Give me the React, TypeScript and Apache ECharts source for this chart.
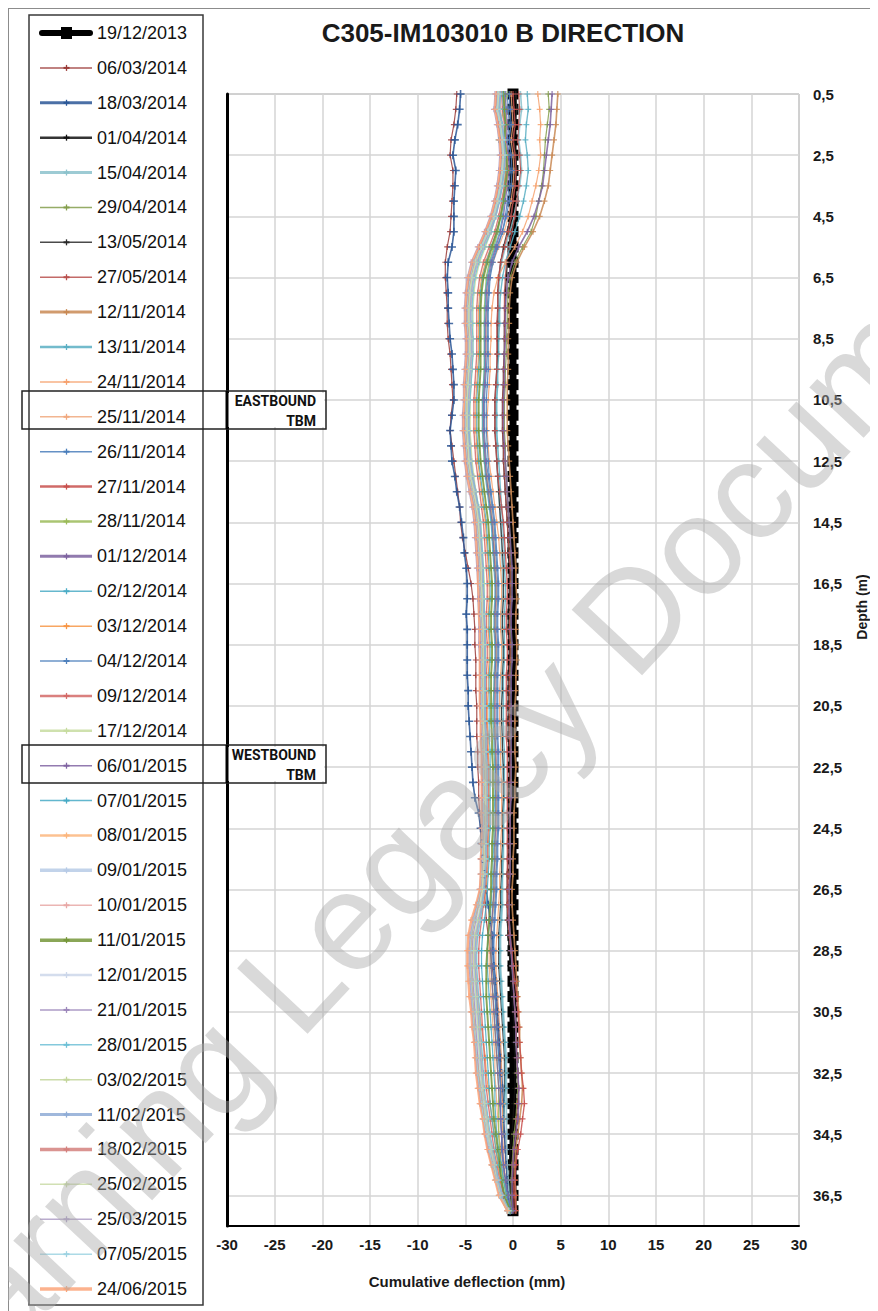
import React, { useEffect, useRef } from 'react';
import * as echarts from 'echarts';

// Depth of each reading (m)
const depths = [0.5,1,1.5,2,2.5,3,3.5,4,4.5,5,5.5,6,6.5,7,7.5,8,8.5,9,9.5,10,10.5,11,11.5,12,12.5,13,13.5,14,14.5,15,15.5,16,16.5,17,17.5,18,18.5,19,19.5,20,20.5,21,21.5,22,22.5,23,23.5,24,24.5,25,25.5,26,26.5,27,27.5,28,28.5,29,29.5,30,30.5,31,31.5,32,32.5,33,33.5,34,34.5,35,35.5,36,36.5,37];

// Cumulative deflection (mm) per survey date, one value per depth
const d20131219 = [0,0,0,0,0,0,0,0,0,0, 0,0,0,0,0,0,0,0,0,0, 0,0,0,0,0,0,0,0,0,0, 0,0,0,0,0,0,0,0,0,0, 0,0,0,0,0,0,0,0,0,0, 0,0,0,0,0,0,0,0,0,0, 0,0,0,0,0,0,0,0,0,0, 0,0,0,0];
const d20140306 = [-5.9,-6.0,-6.2,-6.5,-6.6,-6.3,-6.3,-6.4,-6.5,-6.6, -6.9,-7.1,-7.1,-7.0,-6.9,-6.9,-6.8,-6.6,-6.5,-6.4, -6.3,-6.5,-6.6,-6.4,-6.2,-6.0,-5.8,-5.6,-5.5,-5.3, -5.0,-4.7,-4.4,-4.2,-4.1,-4.0,-4.0,-3.9,-3.9,-3.9, -3.8,-3.8,-3.8,-3.7,-3.7,-3.6,-3.6,-3.5,-3.4,-3.3, -3.2,-3.1,-3.0,-2.9,-2.8,-2.6,-2.4,-2.2,-2.0,-1.8, -1.7,-1.6,-1.5,-1.4,-1.3,-1.2,-1.1,-1.0,-0.9,-0.8, -0.7,-0.6,-0.5,-0.3];
const d20140318 = [-5.5,-5.6,-5.8,-6.1,-6.3,-6.0,-6.1,-6.2,-6.2,-6.2, -6.4,-6.8,-6.9,-6.8,-6.8,-6.7,-6.6,-6.4,-6.3,-6.2, -6.2,-6.4,-6.6,-6.5,-6.4,-6.1,-5.9,-5.6,-5.4,-5.2, -5.1,-4.9,-4.8,-4.8,-4.9,-4.8,-4.8,-4.8,-4.8,-4.7, -4.7,-4.6,-4.5,-4.4,-4.3,-4.2,-4.0,-3.6,-3.4,-3.3, -3.2,-3.0,-2.8,-2.6,-2.4,-2.2,-2.1,-2.0,-1.8,-1.7, -1.6,-1.5,-1.4,-1.3,-1.2,-1.1,-1.0,-1.0,-0.9,-0.8, -0.7,-0.6,-0.5,-0.3];
const d20140401 = [0.2,0.1,0.2,0.0,0.1,0.2,0.1,0.0,-0.1,-0.2, -0.4,-0.6,-0.7,-0.8,-0.8,-0.9,-0.9,-0.9,-1.0,-1.0, -1.1,-1.1,-1.1,-1.0,-1.0,-0.9,-0.8,-0.7,-0.6,-0.5, -0.5,-0.4,-0.4,-0.4,-0.5,-0.5,-0.4,-0.4,-0.5,-0.5, -0.5,-0.5,-0.5,-0.4,-0.4,-0.4,-0.5,-0.5,-0.5,-0.5, -0.5,-0.6,-0.6,-0.6,-0.6,-0.5,-0.4,-0.3,-0.2,-0.1, 0.0,0.1,0.1,0.2,0.2,0.2,0.1,0.0,-0.1,-0.3, -0.4,-0.4,-0.3,-0.1];
const d20140415 = [0.8,0.9,0.7,0.6,0.8,0.9,0.7,0.4,0.1,-0.3, -0.8,-1.2,-1.4,-1.5,-1.5,-1.6,-1.6,-1.6,-1.7,-1.7, -1.8,-1.8,-1.8,-1.7,-1.7,-1.6,-1.5,-1.4,-1.3,-1.2, -1.2,-1.1,-1.1,-1.1,-1.2,-1.2,-1.1,-1.1,-1.2,-1.2, -1.2,-1.2,-1.2,-1.1,-1.1,-1.0,-1.0,-1.0,-1.0,-1.0, -1.0,-1.1,-1.1,-1.1,-1.2,-1.3,-1.3,-1.3,-1.2,-1.1, -1.0,-0.9,-0.8,-0.7,-0.7,-0.7,-0.7,-0.7,-0.7,-0.7, -0.6,-0.5,-0.4,-0.2];
const d20140429 = [3.7,3.8,3.6,3.4,3.3,3.2,3.0,2.7,2.4,1.9, 1.0,0.2,-0.3,-0.5,-0.6,-0.6,-0.7,-0.7,-0.8,-0.8, -0.9,-0.9,-0.9,-0.8,-0.8,-0.7,-0.6,-0.5,-0.4,-0.3, -0.3,-0.2,-0.2,-0.2,-0.3,-0.3,-0.2,-0.2,-0.3,-0.3, -0.3,-0.3,-0.3,-0.2,-0.2,-0.2,-0.3,-0.3,-0.3,-0.3, -0.3,-0.4,-0.4,-0.4,-0.4,-0.3,-0.2,-0.1,0.0,0.1, 0.2,0.3,0.3,0.4,0.4,0.5,0.4,0.3,0.1,0.0, -0.1,-0.2,-0.2,-0.1];
const d20140513 = [0.3,0.4,0.2,0.1,0.3,0.4,0.2,0.0,-0.3,-0.6, -1.0,-1.3,-1.5,-1.6,-1.6,-1.6,-1.6,-1.6,-1.7,-1.8, -1.9,-1.9,-1.9,-1.8,-1.7,-1.6,-1.5,-1.4,-1.3,-1.2, -1.1,-1.0,-1.0,-1.0,-1.1,-1.1,-1.0,-1.0,-1.1,-1.1, -1.2,-1.2,-1.1,-1.1,-1.0,-1.0,-1.0,-1.1,-1.1,-1.1, -1.2,-1.2,-1.3,-1.3,-1.4,-1.5,-1.5,-1.5,-1.4,-1.3, -1.2,-1.1,-1.0,-0.9,-0.9,-0.9,-0.9,-1.0,-1.1,-1.3, -1.4,-1.3,-1.0,-0.4];
const d20140527 = [0.6,0.7,0.6,0.5,0.7,0.8,0.6,0.4,0.2,-0.1, -0.4,-0.7,-0.8,-0.9,-0.9,-0.9,-0.9,-0.9,-1.0,-1.0, -1.1,-1.1,-1.1,-1.0,-1.0,-0.9,-0.8,-0.7,-0.6,-0.5, -0.4,-0.3,-0.3,-0.3,-0.3,-0.4,-0.3,-0.3,-0.4,-0.4, -0.4,-0.4,-0.4,-0.3,-0.3,-0.3,-0.3,-0.3,-0.3,-0.4, -0.4,-0.4,-0.5,-0.5,-0.4,-0.3,-0.1,0.0,0.0,0.1, 0.2,0.3,0.4,0.4,0.5,0.6,0.5,0.4,0.3,0.1, 0.0,0.0,0.1,0.1];
const d20141112 = [4.7,4.6,4.5,4.3,4.1,3.9,3.7,3.3,2.8,2.1, 1.2,0.4,-0.1,-0.3,-0.4,-0.4,-0.5,-0.5,-0.5,-0.6, -0.6,-0.6,-0.6,-0.5,-0.4,-0.3,-0.2,-0.1,0.0,0.1, 0.2,0.3,0.3,0.4,0.3,0.3,0.4,0.4,0.3,0.3, 0.2,0.2,0.2,0.2,0.3,0.2,0.2,0.1,0.1,0.1, 0.0,0.0,-0.1,-0.1,0.0,0.1,0.2,0.3,0.4,0.5, 0.6,0.7,0.7,0.8,0.9,1.0,0.9,0.7,0.5,0.3, 0.2,0.2,0.3,0.3];
const d20141113 = [1.5,1.6,1.4,1.3,1.5,1.6,1.4,1.1,0.7,0.2, -0.3,-0.8,-1.1,-1.3,-1.4,-1.4,-1.5,-1.5,-1.6,-1.6, -1.7,-1.7,-1.7,-1.6,-1.5,-1.4,-1.3,-1.2,-1.1,-1.0, -0.9,-0.9,-0.8,-0.8,-0.9,-0.9,-0.9,-0.9,-1.0,-1.0, -1.0,-1.0,-1.0,-0.9,-0.9,-0.9,-0.9,-1.0,-1.0,-1.0, -1.1,-1.1,-1.2,-1.2,-1.3,-1.4,-1.4,-1.4,-1.3,-1.2, -1.1,-1.0,-0.9,-0.8,-0.8,-0.8,-0.9,-1.0,-1.1,-1.2, -1.1,-0.9,-0.6,-0.2];
const d20141124 = [2.6,2.8,2.9,2.8,2.9,2.7,2.4,2.0,1.6,1.0, 0.2,-0.8,-1.6,-2.0,-2.2,-2.3,-2.3,-2.4,-2.4,-2.5, -2.6,-2.7,-2.7,-2.6,-2.5,-2.3,-2.1,-1.9,-1.7,-1.5, -1.4,-1.3,-1.2,-1.2,-1.3,-1.3,-1.2,-1.2,-1.3,-1.4, -1.4,-1.4,-1.3,-1.3,-1.3,-1.2,-1.2,-1.2,-1.2,-1.3, -1.3,-1.4,-1.4,-1.5,-1.6,-1.7,-1.8,-1.8,-1.7,-1.6, -1.5,-1.4,-1.3,-1.2,-1.2,-1.2,-1.1,-1.1,-1.1,-1.0, -0.9,-0.8,-0.6,-0.2];
const d20141125 = [-0.2,-0.1,0.0,-0.2,0.0,0.1,0.0,-0.2,-0.5,-0.9, -1.5,-2.1,-2.5,-2.7,-2.7,-2.8,-2.8,-2.8,-2.9,-3.0, -3.1,-3.1,-3.1,-3.0,-2.9,-2.7,-2.5,-2.3,-2.1,-2.0, -1.9,-1.8,-1.7,-1.7,-1.8,-1.8,-1.7,-1.7,-1.8,-1.8, -1.9,-1.9,-1.8,-1.8,-1.7,-1.7,-1.7,-1.7,-1.7,-1.7, -1.8,-1.8,-1.9,-2.0,-2.2,-2.4,-2.5,-2.5,-2.4,-2.3, -2.2,-2.1,-2.0,-1.9,-1.9,-1.8,-1.7,-1.6,-1.5,-1.3, -1.1,-0.9,-0.7,-0.2];
const d20141126 = [-0.6,-0.5,-0.4,-0.6,-0.4,-0.3,-0.4,-0.6,-0.8,-1.1, -1.6,-2.1,-2.4,-2.5,-2.6,-2.6,-2.6,-2.6,-2.6,-2.7, -2.8,-2.8,-2.8,-2.7,-2.6,-2.5,-2.3,-2.1,-1.9,-1.8, -1.7,-1.6,-1.5,-1.5,-1.6,-1.6,-1.5,-1.5,-1.6,-1.6, -1.6,-1.6,-1.6,-1.5,-1.5,-1.5,-1.5,-1.5,-1.5,-1.6, -1.6,-1.7,-1.7,-1.8,-1.9,-2.0,-2.1,-2.1,-2.0,-1.9, -1.8,-1.7,-1.6,-1.5,-1.4,-1.3,-1.3,-1.3,-1.2,-1.1, -1.0,-0.8,-0.6,-0.2];
const d20141127 = [0.0,0.1,0.2,0.0,0.2,0.3,0.2,0.0,-0.2,-0.5, -0.9,-1.3,-1.5,-1.6,-1.6,-1.7,-1.7,-1.7,-1.7,-1.8, -1.9,-1.9,-1.9,-1.8,-1.7,-1.6,-1.4,-1.2,-1.0,-0.9, -0.8,-0.7,-0.6,-0.6,-0.7,-0.7,-0.6,-0.6,-0.7,-0.7, -0.7,-0.7,-0.7,-0.6,-0.6,-0.6,-0.6,-0.6,-0.6,-0.6, -0.6,-0.6,-0.6,-0.6,-0.5,-0.4,-0.2,0.0,0.2,0.4, 0.5,0.6,0.7,0.8,0.9,1.1,1.2,1.0,0.8,0.5, 0.3,0.2,0.2,0.3];
const d20141128 = [-0.6,-1.0,-1.3,-1.5,-1.0,-0.8,-0.9,-1.1,-1.3,-1.6, -2.0,-2.5,-2.8,-2.9,-3.0,-3.0,-3.0,-3.0,-3.0,-3.1, -3.2,-3.2,-3.2,-3.1,-3.0,-2.8,-2.6,-2.4,-2.2,-2.1, -2.0,-1.9,-1.8,-1.8,-1.9,-1.9,-1.8,-1.8,-1.9,-2.0, -2.0,-2.0,-1.9,-1.9,-1.8,-1.8,-1.8,-1.8,-1.9,-1.9, -1.9,-2.0,-2.0,-2.1,-2.2,-2.3,-2.3,-2.3,-2.2,-2.1, -2.0,-1.9,-1.8,-1.7,-1.6,-1.5,-1.5,-1.5,-1.5,-1.4, -1.3,-1.0,-0.7,-0.3];
const d20141201 = [4.1,4.0,3.9,3.7,3.5,3.3,3.1,2.7,2.2,1.5, 0.6,-0.1,-0.5,-0.7,-0.8,-0.8,-0.8,-0.9,-0.9,-0.9, -1.0,-1.0,-1.0,-0.9,-0.8,-0.7,-0.6,-0.5,-0.4,-0.3, -0.2,-0.1,-0.1,-0.1,-0.2,-0.2,-0.1,-0.1,-0.2,-0.2, -0.2,-0.2,-0.2,-0.2,-0.2,-0.2,-0.2,-0.3,-0.3,-0.3, -0.3,-0.3,-0.4,-0.4,-0.4,-0.3,-0.2,-0.1,0.0,0.1, 0.2,0.3,0.3,0.4,0.5,0.6,0.6,0.5,0.3,0.1, 0.0,-0.1,-0.1,0.0];
const d20141202 = [-0.9,-0.8,-0.7,-0.9,-0.7,-0.6,-0.7,-0.9,-1.1,-1.4, -1.9,-2.4,-2.7,-2.9,-2.9,-3.0,-3.0,-3.0,-3.0,-3.1, -3.2,-3.2,-3.2,-3.1,-3.0,-2.9,-2.7,-2.5,-2.3,-2.2, -2.1,-2.0,-1.9,-1.9,-2.0,-2.0,-1.9,-1.9,-2.0,-2.0, -2.1,-2.1,-2.0,-2.0,-1.9,-1.9,-1.9,-2.0,-2.0,-2.0, -2.1,-2.1,-2.2,-2.3,-2.4,-2.6,-2.7,-2.7,-2.6,-2.5, -2.4,-2.3,-2.2,-2.1,-2.0,-1.9,-1.9,-1.8,-1.7,-1.5, -1.2,-1.0,-0.7,-0.2];
const d20141203 = [-1.0,-0.9,-0.7,-0.8,-0.6,-0.5,-0.7,-1.0,-1.3,-1.7, -2.3,-2.9,-3.3,-3.5,-3.6,-3.6,-3.6,-3.6,-3.7,-3.8, -3.9,-3.9,-3.9,-3.8,-3.7,-3.5,-3.3,-3.1,-2.9,-2.8, -2.7,-2.6,-2.5,-2.5,-2.6,-2.6,-2.5,-2.5,-2.6,-2.6, -2.7,-2.7,-2.6,-2.6,-2.5,-2.5,-2.5,-2.5,-2.5,-2.6, -2.6,-2.7,-2.8,-3.1,-3.6,-4.0,-4.2,-4.1,-3.9,-3.7, -3.5,-3.3,-3.1,-2.9,-2.8,-2.6,-2.4,-2.2,-2.0,-1.8, -1.6,-1.3,-0.9,-0.3];
const d20141204 = [-0.4,-0.3,-0.2,-0.4,-0.2,-0.1,-0.2,-0.4,-0.7,-1.1, -1.7,-2.2,-2.5,-2.6,-2.7,-2.7,-2.7,-2.7,-2.8,-2.9, -3.0,-3.0,-3.0,-2.9,-2.8,-2.6,-2.4,-2.2,-2.0,-1.9, -1.8,-1.7,-1.6,-1.6,-1.7,-1.7,-1.6,-1.6,-1.7,-1.7, -1.7,-1.7,-1.7,-1.6,-1.6,-1.6,-1.6,-1.6,-1.6,-1.7, -1.7,-1.8,-1.8,-1.9,-2.0,-2.0,-2.0,-2.0,-1.9,-1.8, -1.8,-1.7,-1.6,-1.5,-1.4,-1.3,-1.3,-1.3,-1.2,-1.2, -1.0,-0.8,-0.6,-0.2];
const d20141209 = [-1.2,-1.1,-0.9,-1.0,-0.8,-0.7,-0.9,-1.2,-1.5,-1.9, -2.5,-3.1,-3.5,-3.7,-3.8,-3.8,-3.8,-3.8,-3.9,-4.0, -4.1,-4.1,-4.1,-4.0,-3.9,-3.7,-3.5,-3.3,-3.1,-3.0, -2.9,-2.8,-2.7,-2.7,-2.8,-2.8,-2.7,-2.7,-2.8,-2.8, -2.8,-2.8,-2.7,-2.7,-2.6,-2.6,-2.6,-2.6,-2.6,-2.7, -2.7,-2.8,-2.9,-3.1,-3.3,-3.5,-3.6,-3.6,-3.5,-3.4, -3.3,-3.2,-3.1,-3.0,-2.9,-2.8,-2.6,-2.4,-2.2,-2.0, -1.7,-1.4,-1.0,-0.3];
const d20141217 = [-1.5,-1.4,-1.2,-1.3,-1.1,-1.0,-1.2,-1.5,-1.8,-2.3, -2.9,-3.5,-3.9,-4.1,-4.2,-4.2,-4.2,-4.2,-4.3,-4.4, -4.5,-4.5,-4.5,-4.4,-4.3,-4.1,-3.9,-3.6,-3.4,-3.3, -3.2,-3.1,-3.0,-3.0,-3.0,-3.0,-2.9,-2.9,-3.0,-3.0, -3.0,-3.0,-2.9,-2.9,-2.8,-2.8,-2.8,-2.8,-2.8,-2.9, -2.9,-3.0,-3.1,-3.3,-3.6,-3.8,-3.9,-3.9,-3.8,-3.7, -3.6,-3.5,-3.4,-3.3,-3.2,-3.1,-2.9,-2.7,-2.5,-2.2, -1.9,-1.6,-1.2,-0.4];
const d20150106 = [-0.8,-0.7,-0.6,-0.7,-0.5,-0.4,-0.6,-0.8,-1.0,-1.3, -1.8,-2.3,-2.6,-2.8,-2.8,-2.9,-2.9,-2.9,-2.9,-3.0, -3.1,-3.1,-3.1,-3.0,-2.9,-2.8,-2.6,-2.4,-2.2,-2.1, -2.0,-1.9,-1.8,-1.8,-1.9,-1.9,-1.8,-1.8,-1.9,-1.9, -1.9,-1.9,-1.9,-1.8,-1.8,-1.8,-1.8,-1.8,-1.8,-1.9, -1.9,-2.0,-2.0,-2.1,-2.2,-2.3,-2.3,-2.3,-2.2,-2.1, -2.0,-1.9,-1.8,-1.7,-1.6,-1.5,-1.4,-1.3,-1.2,-1.1, -1.0,-0.8,-0.5,-0.1];
const d20150107 = [-1.1,-1.0,-0.8,-0.9,-0.7,-0.6,-0.8,-1.0,-1.3,-1.7, -2.3,-2.8,-3.2,-3.4,-3.5,-3.5,-3.5,-3.5,-3.6,-3.7, -3.8,-3.8,-3.8,-3.7,-3.6,-3.4,-3.2,-3.0,-2.8,-2.7, -2.6,-2.5,-2.4,-2.4,-2.5,-2.5,-2.4,-2.4,-2.5,-2.5, -2.5,-2.5,-2.5,-2.4,-2.4,-2.4,-2.4,-2.4,-2.4,-2.5, -2.5,-2.6,-2.7,-2.8,-3.0,-3.2,-3.3,-3.3,-3.2,-3.1, -3.0,-2.9,-2.8,-2.7,-2.6,-2.5,-2.4,-2.2,-2.0,-1.8, -1.5,-1.2,-0.9,-0.3];
const d20150108 = [-1.6,-1.7,-1.4,-1.2,-1.1,-1.2,-1.4,-1.7,-2.1,-2.7, -3.4,-4.1,-4.5,-4.7,-4.8,-4.8,-4.7,-4.7,-4.8,-4.9, -4.9,-5.0,-5.0,-4.9,-4.8,-4.6,-4.3,-4.0,-3.8,-3.7, -3.6,-3.5,-3.5,-3.4,-3.4,-3.3,-3.3,-3.3,-3.3,-3.3, -3.3,-3.2,-3.2,-3.1,-3.1,-3.1,-3.1,-3.1,-3.1,-3.1, -3.2,-3.2,-3.3,-3.8,-4.3,-4.6,-4.7,-4.7,-4.6,-4.5, -4.3,-4.2,-4.0,-3.9,-3.8,-3.6,-3.4,-3.1,-2.9,-2.6, -2.2,-1.8,-1.4,-0.5];
const d20150109 = [-1.4,-1.5,-1.2,-1.0,-0.9,-1.0,-1.2,-1.5,-1.9,-2.5, -3.2,-3.8,-4.2,-4.4,-4.5,-4.5,-4.4,-4.4,-4.5,-4.6, -4.7,-4.8,-4.8,-4.7,-4.6,-4.4,-4.1,-3.8,-3.6,-3.5, -3.4,-3.3,-3.3,-3.2,-3.2,-3.1,-3.1,-3.1,-3.1,-3.1, -3.1,-3.0,-3.0,-2.9,-2.9,-2.9,-2.9,-2.9,-2.9,-2.9, -3.0,-3.0,-3.1,-3.3,-3.6,-3.9,-4.0,-4.0,-4.0,-3.9, -3.8,-3.7,-3.6,-3.5,-3.4,-3.3,-3.1,-2.9,-2.7,-2.4, -2.1,-1.7,-1.3,-0.5];
const d20150110 = [-1.3,-1.3,-1.1,-0.9,-0.8,-0.9,-1.1,-1.4,-1.8,-2.4, -3.1,-3.7,-4.1,-4.3,-4.4,-4.4,-4.3,-4.3,-4.4,-4.5, -4.6,-4.6,-4.6,-4.5,-4.4,-4.2,-3.9,-3.7,-3.5,-3.4, -3.3,-3.2,-3.2,-3.1,-3.1,-3.0,-3.0,-3.0,-3.0,-3.0, -3.0,-3.0,-2.9,-2.9,-2.8,-2.8,-2.8,-2.8,-2.8,-2.8, -2.9,-2.9,-3.0,-3.2,-3.5,-3.8,-3.9,-3.9,-3.8,-3.7, -3.6,-3.5,-3.4,-3.3,-3.2,-3.1,-2.9,-2.7,-2.5,-2.2, -1.9,-1.5,-1.1,-0.4];
const d20150111 = [-1.0,-0.9,-0.8,-0.9,-0.7,-0.6,-0.8,-1.0,-1.3,-1.7, -2.2,-2.7,-3.1,-3.3,-3.4,-3.4,-3.4,-3.4,-3.4,-3.5, -3.6,-3.6,-3.6,-3.5,-3.4,-3.2,-3.0,-2.8,-2.6,-2.5, -2.4,-2.3,-2.2,-2.2,-2.3,-2.3,-2.2,-2.2,-2.3,-2.3, -2.3,-2.3,-2.2,-2.2,-2.1,-2.1,-2.1,-2.1,-2.1,-2.2, -2.2,-2.3,-2.3,-2.4,-2.5,-2.6,-2.7,-2.8,-2.8,-2.8, -2.7,-2.6,-2.5,-2.4,-2.3,-2.2,-2.1,-2.0,-1.8,-1.6, -1.4,-1.2,-0.9,-0.3];
const d20150112 = [-1.5,-1.6,-1.3,-1.1,-1.0,-1.1,-1.3,-1.6,-2.0,-2.6, -3.3,-3.9,-4.3,-4.5,-4.6,-4.6,-4.5,-4.5,-4.6,-4.7, -4.8,-4.9,-4.9,-4.8,-4.7,-4.5,-4.2,-3.9,-3.7,-3.6, -3.5,-3.4,-3.4,-3.3,-3.3,-3.2,-3.2,-3.2,-3.2,-3.2, -3.2,-3.1,-3.1,-3.0,-3.0,-3.0,-3.0,-3.0,-3.0,-3.0, -3.1,-3.1,-3.2,-3.5,-3.8,-4.1,-4.2,-4.2,-4.1,-4.0, -3.9,-3.8,-3.7,-3.6,-3.5,-3.3,-3.1,-2.9,-2.7,-2.4, -2.0,-1.7,-1.3,-0.5];
const d20150121 = [-1.7,-1.8,-1.5,-1.3,-1.2,-1.3,-1.5,-1.8,-2.2,-2.8, -3.5,-4.2,-4.6,-4.8,-4.9,-4.9,-4.8,-4.8,-4.9,-5.0, -5.0,-5.1,-5.1,-5.0,-4.9,-4.7,-4.4,-4.1,-3.9,-3.8, -3.7,-3.6,-3.5,-3.5,-3.5,-3.4,-3.4,-3.4,-3.4,-3.4, -3.4,-3.3,-3.3,-3.2,-3.2,-3.2,-3.2,-3.2,-3.2,-3.2, -3.3,-3.3,-3.4,-3.6,-3.9,-4.2,-4.3,-4.3,-4.2,-4.1, -4.0,-3.9,-3.8,-3.7,-3.6,-3.4,-3.2,-3.0,-2.8,-2.5, -2.1,-1.7,-1.3,-0.5];
const d20150128 = [-1.3,-1.4,-1.1,-0.9,-0.8,-0.9,-1.1,-1.4,-1.8,-2.3, -3.0,-3.6,-4.0,-4.2,-4.3,-4.3,-4.2,-4.2,-4.3,-4.4, -4.5,-4.6,-4.6,-4.5,-4.4,-4.2,-3.9,-3.6,-3.4,-3.3, -3.2,-3.1,-3.1,-3.0,-3.0,-2.9,-2.9,-2.9,-2.9,-2.9, -2.9,-2.9,-2.8,-2.8,-2.7,-2.7,-2.7,-2.7,-2.7,-2.8, -2.8,-2.9,-3.0,-3.2,-3.4,-3.7,-3.8,-3.8,-3.7,-3.6, -3.5,-3.4,-3.3,-3.2,-3.1,-3.0,-2.8,-2.6,-2.4,-2.1, -1.8,-1.5,-1.1,-0.4];
const d20150203 = [-1.6,-1.7,-1.4,-1.2,-1.1,-1.2,-1.4,-1.7,-2.1,-2.7, -3.4,-4.0,-4.4,-4.6,-4.7,-4.7,-4.6,-4.6,-4.7,-4.8, -4.9,-4.9,-4.9,-4.8,-4.7,-4.5,-4.2,-3.9,-3.7,-3.6, -3.5,-3.4,-3.4,-3.3,-3.3,-3.2,-3.2,-3.2,-3.2,-3.2, -3.2,-3.2,-3.1,-3.1,-3.0,-3.0,-3.0,-3.0,-3.0,-3.1, -3.1,-3.2,-3.3,-3.6,-4.0,-4.3,-4.4,-4.4,-4.3,-4.2, -4.1,-4.0,-3.9,-3.8,-3.6,-3.4,-3.2,-3.0,-2.8,-2.5, -2.2,-1.8,-1.4,-0.6];
const d20150211 = [-1.4,-1.5,-1.2,-1.0,-0.9,-1.0,-1.2,-1.5,-1.9,-2.5, -3.2,-3.8,-4.2,-4.4,-4.5,-4.5,-4.4,-4.4,-4.5,-4.6, -4.7,-4.7,-4.7,-4.6,-4.5,-4.3,-4.0,-3.7,-3.5,-3.4, -3.3,-3.2,-3.2,-3.1,-3.1,-3.0,-3.0,-3.0,-3.0,-3.0, -3.0,-3.0,-2.9,-2.9,-2.9,-2.9,-2.9,-2.9,-2.9,-2.9, -3.0,-3.0,-3.1,-3.3,-3.6,-3.9,-4.0,-4.0,-3.9,-3.8, -3.7,-3.6,-3.5,-3.4,-3.3,-3.2,-3.0,-2.8,-2.6,-2.3, -2.0,-1.6,-1.2,-0.5];
const d20150218 = [-1.7,-1.8,-1.5,-1.3,-1.2,-1.3,-1.5,-1.8,-2.2,-2.8, -3.5,-4.1,-4.5,-4.7,-4.8,-4.8,-4.7,-4.7,-4.8,-4.9, -5.0,-5.0,-5.0,-4.9,-4.8,-4.6,-4.3,-4.0,-3.8,-3.7, -3.6,-3.5,-3.5,-3.4,-3.4,-3.3,-3.3,-3.3,-3.3,-3.3, -3.3,-3.3,-3.2,-3.2,-3.1,-3.1,-3.1,-3.1,-3.1,-3.2, -3.2,-3.3,-3.4,-3.7,-4.1,-4.4,-4.5,-4.5,-4.4,-4.3, -4.2,-4.1,-4.0,-3.8,-3.7,-3.5,-3.3,-3.1,-2.9,-2.6, -2.2,-1.8,-1.4,-0.6];
const d20150225 = [-1.5,-1.6,-1.3,-1.1,-1.0,-1.1,-1.3,-1.6,-2.0,-2.6, -3.3,-3.9,-4.3,-4.5,-4.6,-4.6,-4.5,-4.5,-4.6,-4.7, -4.8,-4.8,-4.8,-4.7,-4.6,-4.4,-4.1,-3.8,-3.6,-3.5, -3.4,-3.3,-3.3,-3.2,-3.2,-3.1,-3.1,-3.1,-3.1,-3.1, -3.1,-3.1,-3.0,-3.0,-2.9,-2.9,-2.9,-2.9,-2.9,-3.0, -3.0,-3.1,-3.2,-3.4,-3.7,-4.0,-4.1,-4.1,-4.0,-3.9, -3.8,-3.7,-3.6,-3.5,-3.4,-3.2,-3.0,-2.8,-2.6,-2.3, -2.0,-1.7,-1.3,-0.5];
const d20150325 = [-1.9,-2.0,-1.7,-1.5,-1.4,-1.5,-1.7,-2.0,-2.4,-3.0, -3.7,-4.4,-4.8,-5.0,-5.1,-5.1,-5.0,-5.0,-5.1,-5.2, -5.2,-5.3,-5.3,-5.2,-5.1,-4.9,-4.6,-4.3,-4.1,-4.0, -3.9,-3.8,-3.7,-3.7,-3.6,-3.6,-3.6,-3.5,-3.5,-3.5, -3.5,-3.4,-3.4,-3.3,-3.3,-3.3,-3.3,-3.3,-3.3,-3.3, -3.4,-3.4,-3.5,-3.8,-4.2,-4.5,-4.6,-4.6,-4.5,-4.4, -4.3,-4.2,-4.0,-3.9,-3.8,-3.6,-3.4,-3.1,-2.9,-2.6, -2.2,-1.8,-1.4,-0.6];
const d20150507 = [-1.6,-1.7,-1.4,-1.2,-1.1,-1.2,-1.4,-1.7,-2.1,-2.7, -3.4,-4.1,-4.5,-4.7,-4.8,-4.8,-4.7,-4.7,-4.8,-4.9, -5.0,-5.0,-5.0,-4.9,-4.8,-4.6,-4.3,-4.0,-3.8,-3.7, -3.6,-3.5,-3.5,-3.4,-3.4,-3.3,-3.3,-3.3,-3.3,-3.3, -3.3,-3.3,-3.2,-3.2,-3.1,-3.1,-3.1,-3.1,-3.1,-3.2, -3.2,-3.3,-3.4,-3.7,-4.1,-4.4,-4.5,-4.5,-4.4,-4.3, -4.2,-4.1,-3.9,-3.8,-3.7,-3.5,-3.3,-3.1,-2.8,-2.5, -2.2,-1.8,-1.4,-0.6];
const d20150624 = [-1.8,-1.9,-1.6,-1.4,-1.3,-1.4,-1.6,-1.9,-2.3,-2.9, -3.6,-4.3,-4.7,-4.9,-5.0,-5.0,-4.9,-4.9,-5.0,-5.1, -5.1,-5.2,-5.2,-5.1,-5.0,-4.8,-4.5,-4.2,-4.0,-3.9, -3.8,-3.7,-3.7,-3.6,-3.6,-3.5,-3.5,-3.5,-3.5,-3.5, -3.5,-3.4,-3.4,-3.3,-3.3,-3.3,-3.3,-3.3,-3.3,-3.3, -3.4,-3.4,-3.5,-3.9,-4.4,-4.7,-4.8,-4.8,-4.7,-4.6, -4.4,-4.3,-4.1,-4.0,-3.9,-3.7,-3.5,-3.2,-3.0,-2.7, -2.3,-1.9,-1.5,-0.6];

const surveyDates = ['19/12/2013','06/03/2014','18/03/2014','01/04/2014','15/04/2014','29/04/2014','13/05/2014','27/05/2014','12/11/2014','13/11/2014','24/11/2014','25/11/2014','26/11/2014','27/11/2014','28/11/2014','01/12/2014','02/12/2014','03/12/2014','04/12/2014','09/12/2014','17/12/2014','06/01/2015','07/01/2015','08/01/2015','09/01/2015','10/01/2015','11/01/2015','12/01/2015','21/01/2015','28/01/2015','03/02/2015','11/02/2015','18/02/2015','25/02/2015','25/03/2015','07/05/2015','24/06/2015'];
const surveyValues = [d20131219,d20140306,d20140318,d20140401,d20140415,d20140429,d20140513,d20140527,d20141112,d20141113,d20141124,d20141125,d20141126,d20141127,d20141128,d20141201,d20141202,d20141203,d20141204,d20141209,d20141217,d20150106,d20150107,d20150108,d20150109,d20150110,d20150111,d20150112,d20150121,d20150128,d20150203,d20150211,d20150218,d20150225,d20150325,d20150507,d20150624];
const seriesColors = ['#000000','#9B3B38','#2B5797','#111111','#8CC2CC','#849E4C','#2A2A2A','#B9504D','#C98A55','#5AAFC3','#F6A26F','#F0A87E','#4A7EBB','#C8504D','#9BBB59','#7E63A0','#4BACC6','#F79646','#4F81BD','#D46A67','#C7DCA0','#8064A2','#46AAC5','#FBB67E','#B7CBE6','#E8A8A6','#76973A','#CCD7EA','#9D88BB','#6EC0D6','#C3D69B','#8FACD6','#D4817E','#C9DBA6','#AE9DC6','#9ED3E2','#FBA57A'];
const legendWidths = [6,1.5,3,2.5,3,1.5,1.5,1.5,3,2.5,1.5,1.5,1.5,2.5,2.5,3,1.5,1.5,1.5,2.5,2.5,1.5,1.5,2.5,3.5,1.5,3.5,2.5,1.5,1.5,1.5,3,3.5,1.5,1.5,1.5,3.5];

const CROSS = 'path://M4,0h2v4h4v2h-4v4h-2v-4h-4v-2h4z';

export default function App() {
  const ref = useRef<HTMLDivElement>(null);
  useEffect(() => {
    document.documentElement.style.overflow = 'hidden';
    document.body.style.overflow = 'hidden';
    if (!ref.current) return;
    const chart = echarts.init(ref.current, null, { renderer: 'svg' });
    const W = 870;
    const H = 1303;

    const series: any[] = surveyDates.map((name, i) => {
      const base = i === 0;
      return {
        type: 'line',
        name,
        data: surveyValues[i].map((v, k) => [v, depths[k]]),
        xAxisIndex: 0,
        yAxisIndex: 0,
        symbol: base ? 'rect' : CROSS,
        symbolSize: base ? 11 : i === 2 ? 8 : 6,
        z: base ? 2 : 3,
        lineStyle: {
          color: seriesColors[i],
          width: base ? 7 : Math.max(1.2, legendWidths[i] * 0.55),
          opacity: base ? 1 : 0.85,
        },
        itemStyle: { color: seriesColors[i], opacity: base ? 1 : 0.85 },
        emphasis: { disabled: true },
        silent: true,
      };
    });

    const graphics: any[] = [];
    // outer frame (left/top)
    graphics.push({ type: 'line', shape: { x1: 0.5, y1: 0, x2: 0.5, y2: H }, style: { stroke: '#8c8c8c', lineWidth: 1 }, silent: true });
    graphics.push({ type: 'line', shape: { x1: 0, y1: 0.5, x2: W, y2: 0.5 }, style: { stroke: '#8c8c8c', lineWidth: 1 }, silent: true });
    // legend frame
    graphics.push({ type: 'rect', shape: { x: 21, y: 7, width: 174, height: 1290 }, style: { fill: 'none', stroke: '#3a3a3a', lineWidth: 1.5 }, silent: true });
    // title
    graphics.push({ type: 'text', x: 495, y: 25, style: { text: 'C305-IM103010 B DIRECTION', fontFamily: '"Liberation Sans", Arial, sans-serif', fontWeight: 'bold', fontSize: 26, fill: '#1a1a1a', textAlign: 'center', textVerticalAlign: 'middle' }, silent: true });
    // axis names
    graphics.push({ type: 'text', x: 459, y: 1273, style: { text: 'Cumulative deflection (mm)', fontFamily: '"Liberation Sans", Arial, sans-serif', fontWeight: 'bold', fontSize: 15, fill: '#1a1a1a', textAlign: 'center', textVerticalAlign: 'middle' }, silent: true });
    graphics.push({ type: 'text', x: 854, y: 599, rotation: Math.PI / 2, style: { text: 'Depth (m)', fontFamily: '"Liberation Sans", Arial, sans-serif', fontWeight: 'bold', fontSize: 14, fill: '#1a1a1a', textAlign: 'center', textVerticalAlign: 'middle' }, silent: true });

    // legend (manual)
    surveyDates.forEach((name, i) => {
      const y = 25 + i * 34.89;
      const c = seriesColors[i];
      if (i === 0) {
        graphics.push({ type: 'line', shape: { x1: 34, y1: y, x2: 82, y2: y }, style: { stroke: '#000', lineWidth: 6, lineCap: 'round' }, silent: true });
        graphics.push({ type: 'rect', shape: { x: 53, y: y - 6, width: 11, height: 12 }, style: { fill: '#000' }, silent: true });
      } else {
        graphics.push({ type: 'line', shape: { x1: 32, y1: y, x2: 84, y2: y }, style: { stroke: c, lineWidth: legendWidths[i], opacity: 0.85 }, silent: true });
        graphics.push({ type: 'line', shape: { x1: 58.5, y1: y - 3, x2: 58.5, y2: y + 3 }, style: { stroke: c, lineWidth: 1.3 }, silent: true });
        graphics.push({ type: 'line', shape: { x1: 55.5, y1: y, x2: 61.5, y2: y }, style: { stroke: c, lineWidth: 2 }, silent: true });
      }
      graphics.push({ type: 'text', x: 89, y, style: { text: name, fontFamily: '"Liberation Sans", Arial, sans-serif', fontSize: 18, fill: '#111', textAlign: 'left', textVerticalAlign: 'middle' }, silent: true });
    });

    // TBM boxes
    const boxes = [
      { top: 383, label: 'EASTBOUND' },
      { top: 737, label: 'WESTBOUND' },
    ];
    boxes.forEach((b) => {
      graphics.push({ type: 'rect', z: 5, shape: { x: 220, y: b.top + 2, width: 96, height: 34 }, style: { fill: '#ffffff' }, silent: true });
      graphics.push({ type: 'rect', z: 6, shape: { x: 14, y: b.top, width: 304, height: 38 }, style: { fill: 'none', stroke: '#222', lineWidth: 1.5 }, silent: true });
      graphics.push({ type: 'line', z: 6, shape: { x1: 219, y1: b.top, x2: 219, y2: b.top + 38 }, style: { stroke: '#000', lineWidth: 3 }, silent: true });
      graphics.push({ type: 'text', z: 7, x: 308, y: b.top + 10, style: { text: b.label, fontFamily: 'Roboto, sans-serif', fontWeight: 'bold', fontSize: 14, fill: '#111', textAlign: 'right', textVerticalAlign: 'middle' }, silent: true });
      graphics.push({ type: 'text', z: 7, x: 308, y: b.top + 30, style: { text: 'TBM', fontFamily: 'Roboto, sans-serif', fontWeight: 'bold', fontSize: 14, fill: '#111', textAlign: 'right', textVerticalAlign: 'middle' }, silent: true });
    });

    // watermark
    graphics.push({ type: 'text', x: 442, y: 802, rotation: (47 * Math.PI) / 180, z: 100, style: { text: 'Learning Legacy Document', fontFamily: '"Liberation Sans", Arial, sans-serif', fontSize: 140, fill: 'rgba(170,170,170,0.45)', textAlign: 'center', textVerticalAlign: 'middle' }, silent: true });

    const labelFont = { fontFamily: '"Liberation Sans", Arial, sans-serif', fontWeight: 'bold' as const, color: '#1a1a1a' };

    chart.setOption({
      animation: false,
      grid: { left: 219, right: 79, top: 86, bottom: 85, show: true, borderColor: '#8a8a8a', borderWidth: 1, backgroundColor: 'transparent' },
      xAxis: {
        type: 'value',
        min: -30,
        max: 30,
        interval: 5,
        axisLine: { show: true, onZero: false, lineStyle: { color: '#000', width: 2 } },
        axisTick: { show: false },
        splitLine: { show: true, lineStyle: { color: '#d4d4d4', width: 1.5 } },
        axisLabel: { ...labelFont, fontSize: 15, margin: 11 },
      },
      yAxis: [
        {
          type: 'value',
          inverse: true,
          min: 0.5,
          max: 37.5,
          interval: 2,
          position: 'right',
          axisLine: { show: false },
          axisTick: { show: false },
          splitLine: { show: true, lineStyle: { color: '#d4d4d4', width: 1.5 } },
          axisLabel: {
            ...labelFont,
            fontSize: 15,
            margin: 14,
            formatter: (v: number) => (Math.abs(((v - 0.5) % 2)) < 1e-6 ? v.toFixed(1).replace('.', ',') : ''),
          },
        },
        {
          type: 'value',
          inverse: true,
          min: 0.5,
          max: 37.5,
          position: 'left',
          axisLine: { show: true, onZero: false, lineStyle: { color: '#000', width: 3 } },
          axisTick: { show: false },
          axisLabel: { show: false },
          splitLine: { show: false },
        },
      ],
      graphic: { elements: graphics },
      series,
    });
    return () => chart.dispose();
  }, []);
  return <div ref={ref} style={{ width: 870, height: 1303 }} />;
}
